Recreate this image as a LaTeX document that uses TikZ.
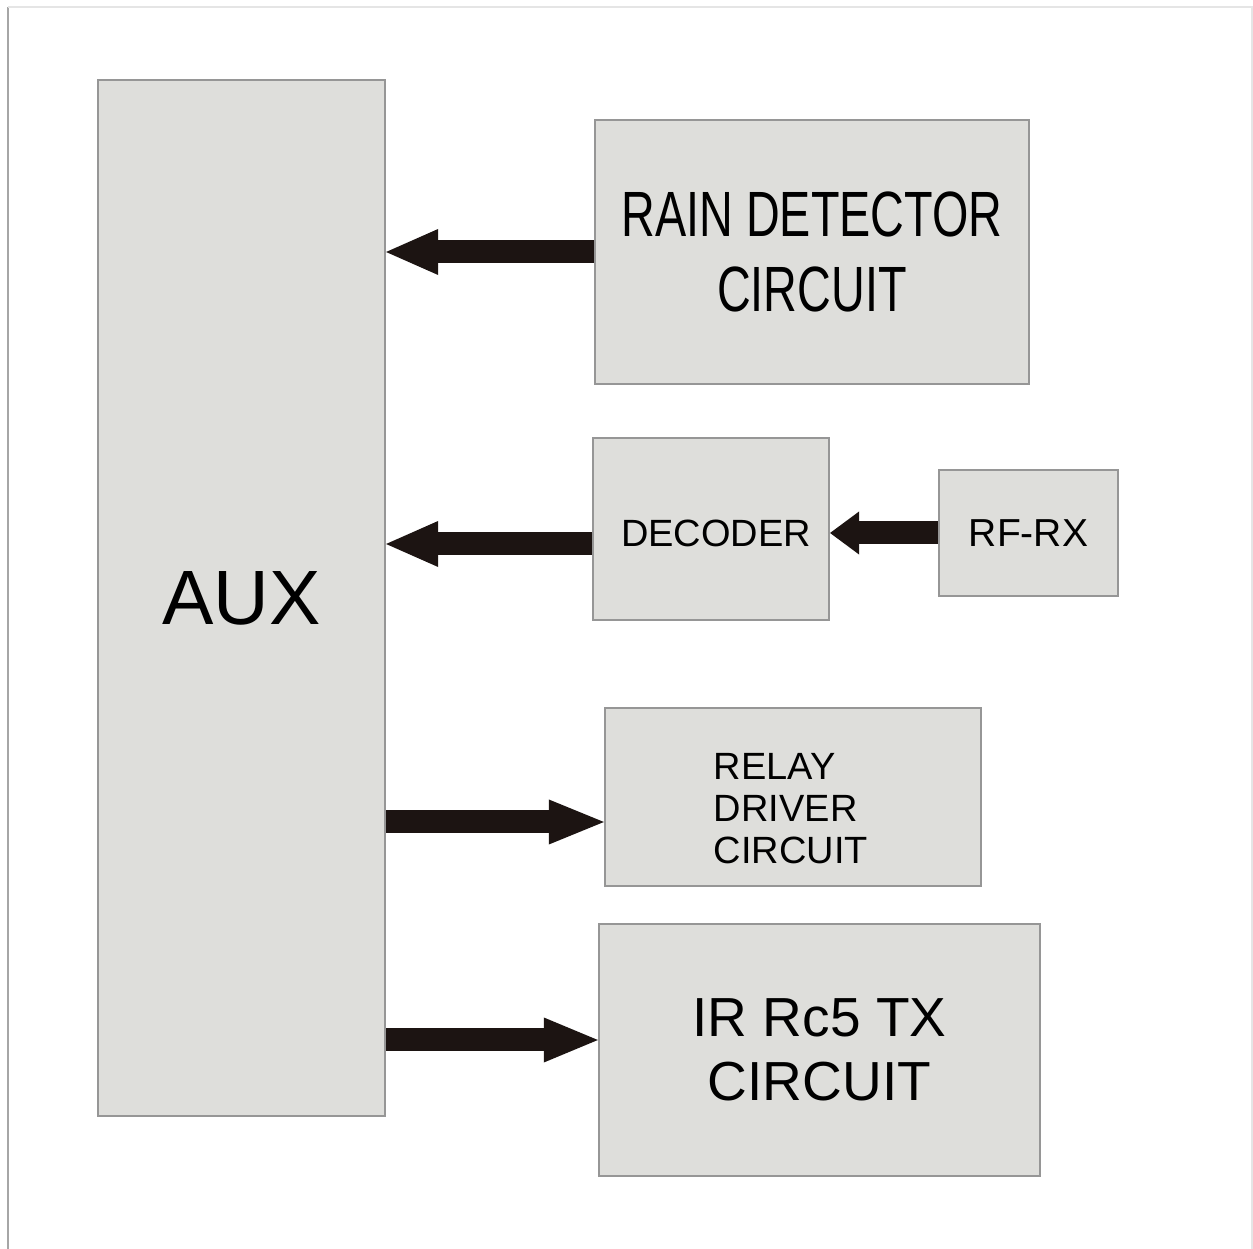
\documentclass[tikz,border=0pt]{standalone}
\usepackage{fontspec}
\setmainfont{Liberation Sans}
\newfontfamily\narrowsans[FakeStretch=0.73]{Liberation Sans}
\usepackage{tikz}
\usetikzlibrary{arrows.meta, calc}
\definecolor{blockGray}{RGB}{222,222,219}
\definecolor{edgeGray}{RGB}{150,150,150}
\definecolor{arrowInk}{RGB}{28,20,18}
\tikzset{
  block/.style={draw=edgeGray, fill=blockGray, line width=0.02cm, inner sep=0pt},
  flow/.style={draw=arrowInk, line width=0.23cm, -{Triangle[length=0.52cm, width=0.46cm, line width=0pt]}}
}

\begin{document}
\begin{tikzpicture}[x=0.01cm, y=-0.01cm]
  \useasboundingbox (0,0) rectangle (1253,1249);
  % frame
  \draw[gray!70, line width=0.02cm] (8,1249) -- (8,7);
  \draw[gray!20, line width=0.02cm] (8,7) -- (1252,7) -- (1252,1249);

  \node[block, minimum width=2.87cm, minimum height=10.36cm, font=\fontsize{21.9}{26}\selectfont] (aux) at (241.5,598) {AUX};
  \node[block, minimum width=4.34cm, minimum height=2.64cm, align=center, font=\narrowsans\fontsize{18.2}{21.3}\selectfont] (rain) at (812,252) {RAIN DETECTOR\\CIRCUIT};
  \node[block, minimum width=2.36cm, minimum height=1.82cm, font=\fontsize{10.8}{13}\selectfont] (decoder) at (711,529) {};
  \node[font=\fontsize{10.8}{13}\selectfont] (decoderText) at ($(decoder.center)+(5,4)$) {DECODER};
  \node[block, minimum width=1.79cm, minimum height=1.26cm, font=\fontsize{11.1}{13}\selectfont] (rfrx) at (1028.5,533) {RF-RX};
  \node[block, minimum width=3.76cm, minimum height=1.78cm] (relay) at (793,797) {};
  \node[align=left, font=\fontsize{10.8}{11.95}\selectfont] (relayText) at ($(relay.center)+(-2,12)$) {RELAY\\DRIVER\\CIRCUIT};
  \node[block, minimum width=4.41cm, minimum height=2.52cm, align=center, font=\fontsize{15.65}{18.2}\selectfont] (irtx) at (819.5,1050) {IR Rc5 TX\\CIRCUIT};

  \coordinate (decOut) at ($(decoder.west)+(0,15)$);
  \coordinate (relayIn) at ($(relay.west)+(0,25)$);
  \coordinate (irIn) at ($(irtx.west)+(0,-10)$);

  \draw[flow] (rain.west) -- (aux.east |- rain.west);
  \draw[flow] (decOut) -- (aux.east |- decOut);
  \draw[flow, -{Triangle[length=0.29cm, width=0.43cm, line width=0pt]}] (rfrx.west) -- (decoder.east |- rfrx.west);
  \draw[flow, -{Triangle[length=0.55cm, width=0.45cm, line width=0pt]}] (aux.east |- relayIn) -- (relayIn);
  \draw[flow, -{Triangle[length=0.54cm, width=0.45cm, line width=0pt]}] (aux.east |- irIn) -- (irIn);
\end{tikzpicture}
\end{document}
